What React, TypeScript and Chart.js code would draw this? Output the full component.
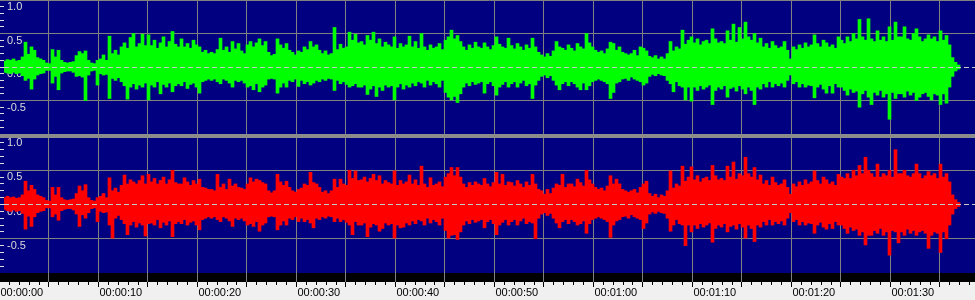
import React, { useEffect, useRef } from "react";
import { Chart, registerables } from "chart.js";

Chart.register(...registerables);

// ---------- data (peak envelope per 3-px column, values in -1..1) ----------
const greenMax = [
  0.03,0.09,0.11,0.1,0.12,0.09,0.1,0.15,0.37,0.19,
  0.3,0.25,0.14,0.12,0.1,0.06,0.05,0.26,0.15,0.25,
  0.1,0.07,0.06,0.07,0.08,0.17,0.23,0.2,0.24,0.1,
  0.06,0.05,0.1,0.12,0.18,0.1,0.46,0.2,0.25,0.18,
  0.3,0.36,0.28,0.44,0.5,0.3,0.35,0.49,0.32,0.48,
  0.32,0.4,0.28,0.36,0.45,0.3,0.38,0.53,0.34,0.3,
  0.42,0.3,0.35,0.28,0.4,0.33,0.3,0.22,0.25,0.2,
  0.22,0.2,0.26,0.43,0.25,0.3,0.22,0.38,0.27,0.35,
  0.24,0.2,0.33,0.38,0.3,0.36,0.42,0.32,0.38,0.22,
  0.17,0.19,0.42,0.33,0.28,0.35,0.25,0.22,0.18,0.24,
  0.22,0.3,0.26,0.38,0.3,0.33,0.25,0.2,0.24,0.18,
  0.2,0.59,0.26,0.34,0.28,0.3,0.52,0.4,0.49,0.36,
  0.38,0.33,0.47,0.4,0.52,0.35,0.42,0.3,0.37,0.33,
  0.3,0.45,0.28,0.35,0.3,0.33,0.46,0.3,0.38,0.28,
  0.5,0.3,0.25,0.33,0.28,0.3,0.35,0.26,0.4,0.45,
  0.55,0.42,0.47,0.38,0.3,0.25,0.33,0.28,0.37,0.3,
  0.28,0.36,0.3,0.26,0.32,0.45,0.34,0.3,0.28,0.43,
  0.32,0.27,0.35,0.3,0.25,0.33,0.28,0.43,0.3,0.22,
  0.18,0.15,0.2,0.16,0.24,0.38,0.3,0.28,0.25,0.33,
  0.28,0.24,0.35,0.3,0.27,0.5,0.36,0.3,0.25,0.22,
  0.24,0.2,0.27,0.37,0.35,0.25,0.3,0.22,0.2,0.18,
  0.2,0.25,0.17,0.3,0.28,0.24,0.16,0.14,0.17,0.12,
  0.15,0.12,0.2,0.38,0.24,0.3,0.27,0.55,0.34,0.4,
  0.45,0.36,0.42,0.33,0.38,0.4,0.35,0.57,0.42,0.36,
  0.38,0.35,0.54,0.4,0.64,0.37,0.59,0.42,0.67,0.45,
  0.4,0.5,0.36,0.43,0.3,0.35,0.28,0.38,0.32,0.28,
  0.3,0.38,0.25,0.12,0.3,0.26,0.33,0.28,0.36,0.3,
  0.33,0.48,0.35,0.3,0.4,0.36,0.3,0.33,0.28,0.45,
  0.4,0.35,0.45,0.38,0.5,0.42,0.71,0.45,0.4,0.72,
  0.42,0.38,0.54,0.4,0.45,0.38,0.6,0.4,0.67,0.45,
  0.45,0.6,0.42,0.4,0.5,0.57,0.45,0.38,0.42,0.48,
  0.42,0.45,0.38,0.54,0.4,0.47,0.33,0.14,0.07,0.03,
];

const greenMin = [
  -0.02,-0.08,-0.09,-0.1,-0.08,-0.1,-0.09,-0.13,-0.2,-0.17,
  -0.33,-0.18,-0.12,-0.1,-0.09,-0.05,-0.05,-0.24,-0.14,-0.34,
  -0.09,-0.07,-0.06,-0.06,-0.08,-0.14,-0.13,-0.15,-0.5,-0.12,
  -0.06,-0.05,-0.27,-0.1,-0.12,-0.11,-0.47,-0.17,-0.2,-0.16,
  -0.22,-0.28,-0.48,-0.3,-0.25,-0.33,-0.27,-0.3,-0.24,-0.49,
  -0.27,-0.3,-0.22,-0.4,-0.26,-0.3,-0.24,-0.37,-0.28,-0.25,
  -0.28,-0.22,-0.32,-0.26,-0.24,-0.3,-0.39,-0.22,-0.2,-0.18,
  -0.2,-0.18,-0.22,-0.25,-0.18,-0.2,-0.24,-0.3,-0.2,-0.22,
  -0.2,-0.24,-0.3,-0.28,-0.34,-0.25,-0.37,-0.3,-0.27,-0.18,
  -0.17,-0.18,-0.39,-0.3,-0.24,-0.3,-0.2,-0.22,-0.18,-0.29,
  -0.2,-0.25,-0.22,-0.27,-0.24,-0.2,-0.22,-0.18,-0.2,-0.17,
  -0.18,-0.35,-0.2,-0.25,-0.22,-0.26,-0.3,-0.28,-0.25,-0.3,
  -0.3,-0.27,-0.41,-0.33,-0.28,-0.44,-0.3,-0.35,-0.27,-0.3,
  -0.28,-0.49,-0.3,-0.25,-0.33,-0.27,-0.3,-0.24,-0.28,-0.22,
  -0.24,-0.3,-0.2,-0.27,-0.22,-0.25,-0.3,-0.2,-0.38,-0.45,
  -0.49,-0.44,-0.53,-0.4,-0.3,-0.24,-0.28,-0.22,-0.26,-0.24,
  -0.22,-0.39,-0.25,-0.22,-0.28,-0.42,-0.3,-0.26,-0.22,-0.3,
  -0.25,-0.22,-0.3,-0.24,-0.2,-0.28,-0.25,-0.47,-0.27,-0.2,
  -0.14,-0.12,-0.16,-0.13,-0.2,-0.27,-0.34,-0.25,-0.22,-0.28,
  -0.22,-0.25,-0.3,-0.34,-0.24,-0.34,-0.28,-0.22,-0.2,-0.18,
  -0.2,-0.22,-0.25,-0.47,-0.38,-0.24,-0.22,-0.18,-0.17,-0.2,
  -0.15,-0.18,-0.2,-0.22,-0.27,-0.24,-0.14,-0.11,-0.13,-0.1,
  -0.12,-0.13,-0.2,-0.25,-0.37,-0.22,-0.28,-0.3,-0.49,-0.3,
  -0.51,-0.3,-0.35,-0.28,-0.33,-0.3,-0.27,-0.56,-0.35,-0.3,
  -0.33,-0.28,-0.45,-0.32,-0.3,-0.36,-0.28,-0.33,-0.4,-0.3,
  -0.35,-0.56,-0.3,-0.33,-0.25,-0.3,-0.22,-0.3,-0.25,-0.28,
  -0.24,-0.3,-0.2,-0.12,-0.25,-0.22,-0.3,-0.25,-0.3,-0.27,
  -0.28,-0.46,-0.3,-0.26,-0.33,-0.39,-0.28,-0.39,-0.25,-0.3,
  -0.3,-0.35,-0.42,-0.33,-0.38,-0.36,-0.6,-0.4,-0.35,-0.45,
  -0.56,-0.38,-0.42,-0.35,-0.45,-0.4,-0.78,-0.38,-0.47,-0.4,
  -0.4,-0.45,-0.36,-0.42,-0.38,-0.5,-0.45,-0.4,-0.38,-0.44,
  -0.49,-0.4,-0.42,-0.56,-0.4,-0.54,-0.3,-0.14,-0.06,-0.03,
];

const redMax = [
  0.03,0.1,0.12,0.1,0.11,0.09,0.1,0.14,0.34,0.2,
  0.28,0.22,0.14,0.12,0.1,0.06,0.05,0.25,0.14,0.25,
  0.1,0.07,0.06,0.07,0.08,0.16,0.27,0.2,0.29,0.1,
  0.06,0.05,0.1,0.12,0.16,0.1,0.39,0.2,0.24,0.18,
  0.28,0.43,0.3,0.36,0.33,0.3,0.35,0.42,0.3,0.44,
  0.33,0.38,0.3,0.35,0.4,0.3,0.36,0.5,0.32,0.3,
  0.3,0.39,0.33,0.28,0.35,0.3,0.37,0.25,0.24,0.22,
  0.22,0.2,0.44,0.25,0.3,0.22,0.37,0.27,0.3,0.25,
  0.24,0.22,0.3,0.39,0.33,0.37,0.35,0.32,0.3,0.2,
  0.17,0.2,0.44,0.33,0.28,0.34,0.25,0.2,0.18,0.22,
  0.24,0.3,0.28,0.47,0.32,0.3,0.25,0.18,0.2,0.16,
  0.2,0.37,0.25,0.37,0.3,0.28,0.5,0.38,0.49,0.35,
  0.36,0.4,0.33,0.38,0.44,0.35,0.42,0.3,0.35,0.32,
  0.3,0.49,0.28,0.35,0.3,0.33,0.43,0.3,0.36,0.28,
  0.56,0.3,0.25,0.39,0.28,0.3,0.33,0.26,0.4,0.45,
  0.54,0.42,0.54,0.4,0.3,0.25,0.32,0.28,0.33,0.3,
  0.28,0.38,0.3,0.26,0.32,0.47,0.3,0.44,0.28,0.33,
  0.32,0.27,0.35,0.3,0.25,0.33,0.28,0.44,0.3,0.22,
  0.2,0.15,0.22,0.16,0.24,0.3,0.28,0.44,0.25,0.3,
  0.3,0.26,0.37,0.32,0.27,0.5,0.36,0.3,0.25,0.22,
  0.24,0.2,0.27,0.42,0.3,0.37,0.3,0.22,0.2,0.18,
  0.2,0.22,0.17,0.25,0.3,0.34,0.16,0.12,0.15,0.1,
  0.14,0.12,0.2,0.49,0.24,0.3,0.27,0.56,0.34,0.4,
  0.55,0.36,0.42,0.33,0.38,0.4,0.35,0.57,0.42,0.36,
  0.38,0.35,0.56,0.4,0.62,0.37,0.45,0.42,0.69,0.45,
  0.4,0.54,0.36,0.43,0.3,0.35,0.28,0.4,0.32,0.28,
  0.3,0.36,0.25,0.15,0.3,0.26,0.33,0.28,0.36,0.3,
  0.33,0.49,0.35,0.3,0.4,0.36,0.3,0.33,0.28,0.44,
  0.4,0.38,0.45,0.38,0.5,0.42,0.57,0.45,0.69,0.5,
  0.45,0.4,0.59,0.4,0.45,0.42,0.5,0.4,0.8,0.45,
  0.45,0.5,0.42,0.4,0.45,0.59,0.45,0.38,0.42,0.48,
  0.42,0.45,0.38,0.59,0.4,0.45,0.33,0.14,0.07,0.03,
];

const redMin = [
  -0.02,-0.07,-0.09,-0.1,-0.08,-0.1,-0.09,-0.13,-0.36,-0.17,
  -0.32,-0.18,-0.12,-0.1,-0.09,-0.05,-0.05,-0.18,-0.14,-0.23,
  -0.09,-0.07,-0.06,-0.06,-0.08,-0.14,-0.32,-0.15,-0.2,-0.12,
  -0.06,-0.05,-0.25,-0.1,-0.12,-0.11,-0.3,-0.49,-0.2,-0.16,
  -0.22,-0.28,-0.44,-0.3,-0.25,-0.33,-0.27,-0.3,-0.46,-0.28,
  -0.27,-0.3,-0.22,-0.34,-0.26,-0.3,-0.24,-0.47,-0.28,-0.25,
  -0.28,-0.22,-0.3,-0.26,-0.24,-0.3,-0.37,-0.22,-0.2,-0.18,
  -0.2,-0.18,-0.22,-0.25,-0.18,-0.2,-0.24,-0.32,-0.2,-0.22,
  -0.2,-0.24,-0.3,-0.28,-0.32,-0.25,-0.39,-0.3,-0.27,-0.18,
  -0.17,-0.18,-0.37,-0.3,-0.24,-0.3,-0.2,-0.22,-0.18,-0.25,
  -0.2,-0.25,-0.22,-0.27,-0.34,-0.2,-0.22,-0.18,-0.2,-0.17,
  -0.18,-0.25,-0.2,-0.25,-0.22,-0.26,-0.3,-0.44,-0.25,-0.3,
  -0.3,-0.27,-0.47,-0.33,-0.28,-0.3,-0.39,-0.35,-0.27,-0.3,
  -0.28,-0.49,-0.3,-0.34,-0.33,-0.27,-0.3,-0.24,-0.28,-0.22,
  -0.24,-0.3,-0.2,-0.27,-0.22,-0.25,-0.3,-0.2,-0.38,-0.49,
  -0.45,-0.44,-0.51,-0.4,-0.3,-0.24,-0.28,-0.22,-0.26,-0.24,
  -0.22,-0.34,-0.25,-0.22,-0.28,-0.44,-0.3,-0.26,-0.22,-0.3,
  -0.25,-0.22,-0.3,-0.24,-0.2,-0.28,-0.25,-0.27,-0.5,-0.2,
  -0.14,-0.12,-0.16,-0.13,-0.2,-0.27,-0.34,-0.25,-0.22,-0.28,
  -0.22,-0.25,-0.3,-0.28,-0.24,-0.42,-0.28,-0.22,-0.2,-0.18,
  -0.2,-0.22,-0.25,-0.48,-0.3,-0.24,-0.22,-0.18,-0.17,-0.2,
  -0.15,-0.18,-0.2,-0.22,-0.35,-0.27,-0.14,-0.11,-0.13,-0.1,
  -0.12,-0.13,-0.2,-0.39,-0.3,-0.22,-0.28,-0.3,-0.6,-0.3,
  -0.4,-0.3,-0.35,-0.28,-0.33,-0.3,-0.27,-0.55,-0.35,-0.3,
  -0.33,-0.28,-0.4,-0.32,-0.3,-0.36,-0.28,-0.33,-0.49,-0.3,
  -0.35,-0.54,-0.3,-0.33,-0.25,-0.3,-0.22,-0.3,-0.25,-0.28,
  -0.24,-0.3,-0.2,-0.12,-0.25,-0.22,-0.3,-0.25,-0.3,-0.27,
  -0.28,-0.42,-0.3,-0.26,-0.33,-0.36,-0.28,-0.35,-0.25,-0.3,
  -0.3,-0.35,-0.42,-0.33,-0.38,-0.36,-0.45,-0.4,-0.59,-0.45,
  -0.45,-0.38,-0.42,-0.35,-0.45,-0.4,-0.74,-0.38,-0.4,-0.56,
  -0.4,-0.45,-0.36,-0.42,-0.38,-0.45,-0.4,-0.38,-0.42,-0.64,
  -0.45,-0.4,-0.42,-0.7,-0.4,-0.5,-0.3,-0.14,-0.06,-0.03,
];

// tick labels
const yLabelValues = [1, 0.5, 0, -0.5];
const yLabelTexts = ["1.0", "0.5", "0.0", "-0.5"];
const timeLabelSeconds = [0, 10, 20, 30, 40, 50, 60, 70, 80, 90];
const timeLabels = [
  "00:00:00", "00:00:10", "00:00:20", "00:00:30", "00:00:40",
  "00:00:50", "00:01:00", "00:01:10", "00:01:20", "00:01:30",
];
const gridSeconds = [5, 10, 15, 20, 25, 30, 35, 40, 45, 50, 55, 60, 65, 70, 75, 80, 85, 90, 95];
const majorTickSeconds = [0, ...gridSeconds];
const minorTickSeconds = Array.from({ length: 99 }, (_, i) => i);

// ---------- layout / style ----------
const W = 975;
const PX_PER_SEC = 9.9;
const X_SHIFT = 0.6;
const COL_PX = 3;
const LEFT_TICK_PX = 4;
const NAVY = "#000080";
const GRID = "#808080";
const SEP = "#8c8c8c";
const ZERO = "#c8c8c8";
const YLABEL = "#dcdcdc";
const FACE = "#f0f0f0";
const FONT = "Liberation Sans";

const near = (a: number, b: number) => Math.abs(a - b) < 1e-6;
const isHalf = (v: number) => near(v * 2, Math.round(v * 2));

function waveConfig(maxArr: number[], minArr: number[], color: string): any {
  const data = maxArr.map((hi, i) => ({
    x: (i * COL_PX + COL_PX / 2 + X_SHIFT) / PX_PER_SEC,
    y: [minArr[i], hi],
  }));
  return {
    type: "bar",
    data: {
      datasets: [
        { data, backgroundColor: color, borderWidth: 0, barThickness: COL_PX, grouped: false },
      ],
    },
    options: {
      animation: false,
      responsive: false,
      devicePixelRatio: 1,
      events: [],
      layout: { padding: 0 },
      plugins: { legend: { display: false }, tooltip: { enabled: false } },
      scales: {
        x: {
          type: "linear",
          min: (LEFT_TICK_PX + X_SHIFT) / PX_PER_SEC,
          max: (W + X_SHIFT) / PX_PER_SEC,
          offset: false,
          afterBuildTicks: (s: any) => {
            s.ticks = gridSeconds.map((v) => ({ value: v }));
          },
          ticks: { display: false, autoSkip: false },
          grid: { color: GRID, drawTicks: false, offset: false },
          border: { display: false },
          afterFit: (s: any) => {
            s.height = 0;
            s.paddingLeft = 0;
            s.paddingRight = 0;
          },
        },
        y: {
          type: "linear",
          position: "left",
          min: -1,
          max: 1,
          ticks: {
            stepSize: 0.1,
            autoSkip: false,
            mirror: true,
            padding: 3,
            labelOffset: 7,
            color: YLABEL,
            font: { family: FONT, size: 11 },
            callback: (v: number) => {
              const i = yLabelValues.findIndex((t) => near(t, v));
              return i >= 0 ? yLabelTexts[i] : "";
            },
          },
          grid: {
            color: (ctx: any) => {
              const v = ctx.tick ? ctx.tick.value : 0;
              return isHalf(v) && !near(v, 0) ? GRID : "transparent";
            },
            tickColor: (ctx: any) => {
              const v = ctx.tick ? ctx.tick.value : 0;
              return isHalf(v) && !near(v, 0) ? GRID : YLABEL;
            },
            tickLength: LEFT_TICK_PX,
            drawTicks: true,
          },
          border: { display: false },
          afterFit: (s: any) => {
            s.width = LEFT_TICK_PX;
            s.paddingTop = 0;
            s.paddingBottom = 0;
          },
        },
        yZero: {
          type: "linear",
          position: "right",
          min: -1,
          max: 1,
          ticks: { display: false, stepSize: 1 },
          grid: {
            color: (ctx: any) => (ctx.tick && near(ctx.tick.value, 0) ? ZERO : "transparent"),
            drawTicks: false,
            z: 1,
          },
          border: { display: false, dash: [5, 3] },
          afterFit: (s: any) => {
            s.width = 0;
            s.paddingTop = 0;
            s.paddingBottom = 0;
          },
        },
      },
    },
  };
}

const bandPlugin = {
  id: "blackBand",
  beforeDraw(chart: any) {
    const { ctx, chartArea: a } = chart;
    ctx.save();
    ctx.fillStyle = "#000000";
    ctx.fillRect(a.left, a.top, a.right - a.left, a.bottom - a.top);
    ctx.restore();
  },
};

function axisConfig(major: boolean): any {
  return {
    type: "scatter",
    data: { datasets: [] },
    options: {
      animation: false,
      responsive: false,
      devicePixelRatio: 1,
      events: [],
      layout: { padding: 0 },
      plugins: { legend: { display: false }, tooltip: { enabled: false } },
      scales: {
        x: {
          type: "linear",
          position: "bottom",
          min: X_SHIFT / PX_PER_SEC,
          max: (W + X_SHIFT) / PX_PER_SEC,
          afterBuildTicks: (s: any) => {
            s.ticks = (major ? majorTickSeconds : minorTickSeconds).map((v) => ({ value: v }));
          },
          ticks: {
            display: major,
            autoSkip: false,
            maxRotation: 0,
            minRotation: 0,
            align: "start",
            labelOffset: 1,
            padding: 0,
            color: "#000000",
            font: { family: FONT, size: 11, lineHeight: 1 },
            callback: (v: number) => {
              const i = timeLabelSeconds.findIndex((t) => near(t, v));
              return i >= 0 ? timeLabels[i] : "";
            },
          },
          grid: {
            drawOnChartArea: major,
            color: (ctx: any) => (ctx.tick && ctx.tick.value > 0 ? GRID : "transparent"),
            tickColor: "#000000",
            tickLength: major ? 5 : 3,
            drawTicks: true,
          },
          border: { display: false },
          afterFit: (s: any) => {
            s.height = 18;
            s.paddingLeft = 0;
            s.paddingRight = 0;
          },
        },
        y: { display: false, min: 0, max: 1 },
      },
    },
    plugins: major ? [bandPlugin] : [],
  };
}

export default function App() {
  const topRef = useRef<HTMLCanvasElement>(null);
  const botRef = useRef<HTMLCanvasElement>(null);
  const axisRef = useRef<HTMLCanvasElement>(null);
  const minorRef = useRef<HTMLCanvasElement>(null);

  useEffect(() => {
    const charts = [
      new Chart(topRef.current as HTMLCanvasElement, waveConfig(greenMax, greenMin, "#00ff00")),
      new Chart(botRef.current as HTMLCanvasElement, waveConfig(redMax, redMin, "#ff0000")),
      new Chart(axisRef.current as HTMLCanvasElement, axisConfig(true)),
      new Chart(minorRef.current as HTMLCanvasElement, axisConfig(false)),
    ];
    return () => charts.forEach((c) => c.destroy());
  }, []);

  const abs = (top: number, h: number, extra: any = {}) => ({
    position: "absolute" as const,
    left: 0,
    top,
    width: W,
    height: h,
    display: "block",
    ...extra,
  });

  return (
    <div style={{ position: "fixed", left: 0, top: 0, width: W, height: 300, background: FACE, overflow: "hidden" }}>
      <canvas ref={topRef} width={W} height={134} style={abs(0, 134, { background: NAVY })} />
      <canvas ref={botRef} width={W} height={137} style={abs(136, 137, { background: NAVY })} />
      <div style={abs(134, 4, { background: SEP })} />
      <canvas ref={axisRef} width={W} height={27} style={abs(273, 27)} />
      <canvas ref={minorRef} width={W} height={27} style={abs(273, 27)} />
    </div>
  );
}
